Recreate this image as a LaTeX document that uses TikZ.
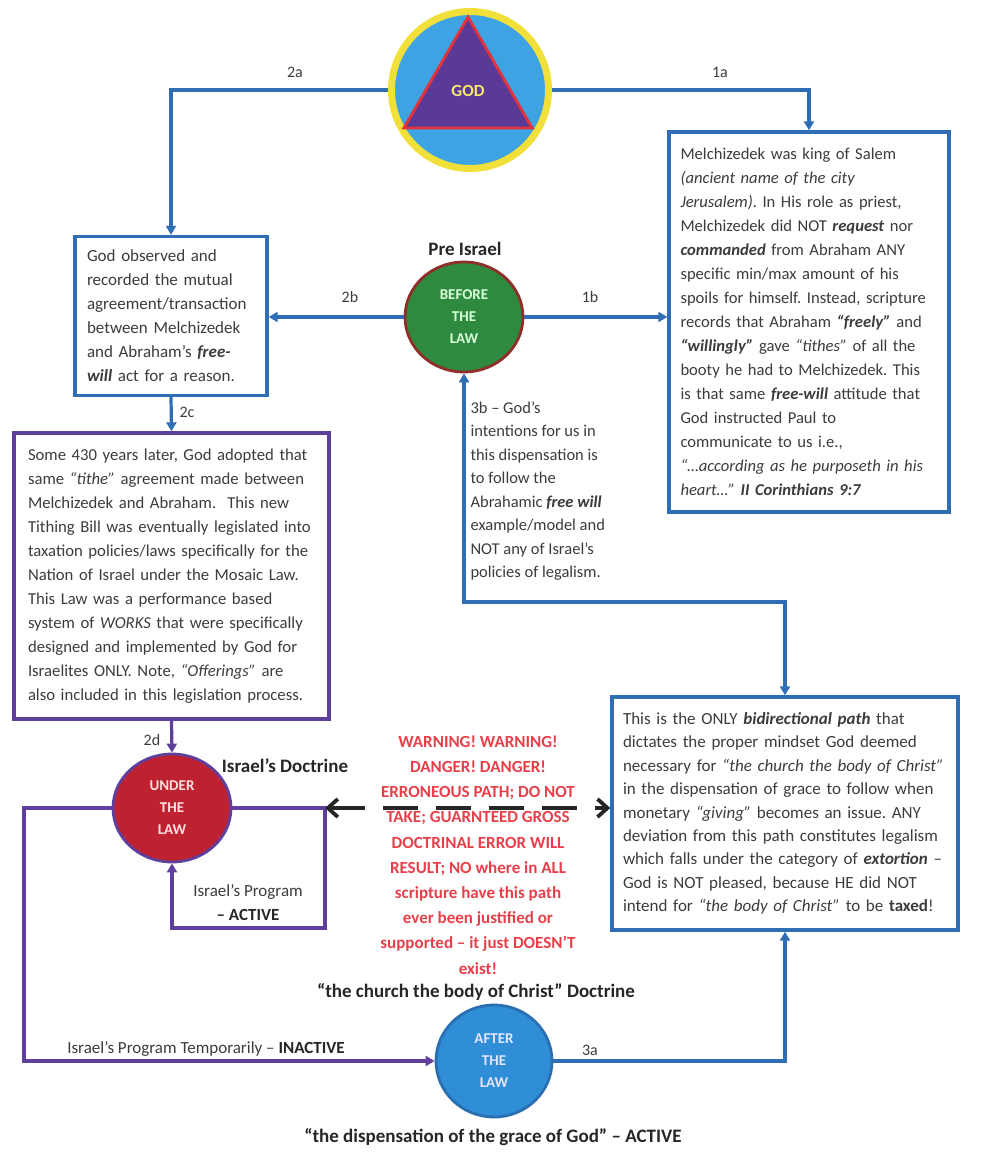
\documentclass[tikz,border=0pt]{standalone}
\usepackage{fontspec}
\setmainfont{Carlito}
\usetikzlibrary{arrows.meta}
\usetikzlibrary{calc}
\usetikzlibrary{shapes.geometric}

\definecolor{flowblue}{HTML}{2F6DB5}
\definecolor{flowpurple}{HTML}{5E3F9C}
\definecolor{godyellow}{HTML}{F2E03A}
\definecolor{godblue}{HTML}{3EA3E2}
\definecolor{godred}{HTML}{E4323A}
\definecolor{godviolet}{HTML}{5A3A96}
\definecolor{beforegreen}{HTML}{2E8A3F}
\definecolor{beforerim}{HTML}{8E2F2A}
\definecolor{underred}{HTML}{BE2230}
\definecolor{afterblue}{HTML}{2F8ED6}
\definecolor{afterrim}{HTML}{2A6FB2}
\definecolor{warnred}{HTML}{E8404A}
\definecolor{bodygray}{HTML}{3C3C3C}

\tikzset{
  flow/.style={draw=flowblue, line width=3.2pt, -{Triangle[length=9pt,width=10pt]}},
  pflow/.style={flow, draw=flowpurple},
  textbox/.style={draw=flowblue, line width=3.4pt, fill=white, align=left, inner ysep=0pt, text=bodygray, font=\fontsize{17}{24}\selectfont},
  lawbox/.style={textbox, draw=flowpurple},
  stage/.style={ellipse, line width=2.8pt, inner sep=0pt, align=center, font=\fontsize{15}{22}\selectfont\bfseries},
  steplabel/.style={text=bodygray, font=\fontsize{16}{18}\selectfont},
  heading/.style={text=black!85, font=\fontsize{19}{21}\selectfont\bfseries},
  danger/.style={draw=black!85, line width=3.8pt, dash pattern=on 35pt off 18pt, {Straight Barb[length=10pt,width=18pt]}-{Straight Barb[length=10pt,width=18pt]}},
}

\begin{document}
\frenchspacing
\hyphenpenalty=10000
\exhyphenpenalty=10000
\begin{tikzpicture}[x=1pt, y=-1pt]
      \fill[white] (0,0) rectangle (980,1169);
      \useasboundingbox (0,0) rectangle (980,1169);

      % stages
      \node[circle, draw=godyellow, line width=7pt, fill=godblue, minimum size=157pt, inner sep=0pt] (god) at (470,90) {};
      \node[regular polygon, regular polygon sides=3, draw=godred, line width=2.8pt, fill=godviolet, minimum size=148pt, inner sep=0pt, text=godyellow!75!white, font=\fontsize{17}{19}\selectfont\bfseries] (godtri) at (468,91) {GOD};
      \node[stage, fill=beforegreen, draw=beforerim, minimum width=118pt, minimum height=110pt, text=green!15!white] (before) at (464,317) {BEFORE\\THE\\LAW};
      \node[stage, fill=underred, draw=flowpurple, minimum width=118pt, minimum height=108pt, text=red!12!white] (under) at (172,808) {UNDER\\THE\\LAW};
      \node[stage, fill=afterblue, draw=afterrim, minimum width=116pt, minimum height=112pt, text=blue!10!white] (after) at (494,1061) {AFTER\\THE\\LAW};

      % boxes
      \node[textbox, text width=257pt, inner xsep=11.5pt, minimum height=380pt, font=\fontsize{16.6}{24}\selectfont] (melch) at (809,322) {%
        Melchizedek was king of Salem\\
        \textit{(ancient name of the city}\\
        \textit{Jerusalem)}. In His role as priest,\\
        Melchizedek did NOT \textbf{\textit{request}} nor\\
        \textbf{\textit{commanded}} from Abraham ANY\\
        specific min/max amount of his\\
        spoils for himself. Instead, scripture\\
        records that Abraham \textbf{\textit{“freely”}} and\\
        \textbf{\textit{“willingly”}} gave \textit{“tithes”} of all the\\
        booty he had to Melchizedek. This\\
        is that same \textbf{\textit{free-will}} attitude that\\
        God instructed Paul to\\
        communicate to us i.e.,\\
        \textit{“…according as he purposeth in his}\\
        \textit{heart…”} \textbf{\textit{II Corinthians 9:7}}};
      \node[textbox, text width=168pt, inner xsep=12pt, minimum height=159pt] (observed) at (171,316) {%
        God observed and\\
        recorded the mutual\\
        agreement/transaction\\
        between Melchizedek\\
        and Abraham’s \textbf{\textit{free-}}\\
        \textbf{\textit{will}} act for a reason.};
      \node[lawbox, text width=287pt, inner xsep=14pt, minimum height=286pt, font=\fontsize{16.7}{24}\selectfont] (tithing) at (171.5,576) {%
        Some 430 years later, God adopted that\\
        same \textit{“tithe”} agreement made between\\
        Melchizedek and Abraham.\ \ This new\\
        Tithing Bill was eventually legislated into\\
        taxation policies/laws specifically for the\\
        Nation of Israel under the Mosaic Law.\\
        This Law was a performance based\\
        system of \textit{WORKS} that were specifically\\
        designed and implemented by God for\\
        Israelites ONLY. Note, \textit{“Offerings”} are\\
        also included in this legislation process.};
      \node[textbox, text width=324pt, inner xsep=11pt, minimum height=233pt, font=\fontsize{17}{23.4}\selectfont] (grace) at (785,813.5) {%
        This is the ONLY \textbf{\textit{bidirectional path}} that\\
        dictates the proper mindset God deemed\\
        necessary for \textit{“the church the body of Christ”}\\
        in the dispensation of grace to follow when\\
        monetary \textit{“giving”} becomes an issue. ANY\\
        deviation from this path constitutes legalism\\
        which falls under the category of \textbf{\textit{extortion}} –\\
        God is NOT pleased, because HE did NOT\\
        intend for \textit{“the body of Christ”} to be \textbf{taxed}!};

      % connectors
      \coordinate (progcorner) at (325,928);
      \coordinate (gracebend) at (785,602);
      \coordinate (farleft) at (24,1061);
      \draw[flow] (god.west) -| (observed.north);
      \draw[flow] (god.east) -| (melch.north);
      \draw[flow] (before.west) -- (before.west -| observed.east);
      \draw[flow] (before.east) -- (before.east -| melch.west);
      \draw[flow] (observed.south) -- (tithing.north);
      \draw[pflow] (tithing.south) -- (under.north);
      \draw[pflow] (under.east) -| (progcorner) -| (under.south);
      \draw[flow, {Triangle[length=9pt,width=10pt]}-{Triangle[length=9pt,width=10pt]}] (before.south) |- (gracebend) -- (grace.north);
      \draw[pflow] (under.west) -| (farleft) -- (after.west);
      \draw[flow] (after.east) -| (grace.south);
      \draw[danger] (progcorner |- under.east) -- (under.east -| grace.west);

      % labels
      \node[steplabel] (l2a) at (295,72) {2a};
      \node[steplabel] (l1a) at (720,72) {1a};
      \node[steplabel] (l2b) at (350,297) {2b};
      \node[steplabel] (l1b) at (590,297) {1b};
      \node[steplabel] (l2c) at (187,412) {2c};
      \node[steplabel] (l2d) at (152,740) {2d};
      \node[steplabel] (l3a) at (590,1050) {3a};
      \node[heading] (preisrael) at (465,249) {Pre Israel};
      \node[heading] (doctrine) at (285,766) {Israel’s Doctrine};
      \node[steplabel, align=center, font=\fontsize{17}{24}\selectfont] (active) at (248,903) {Israel’s Program\\\textbf{\textcolor{black!85}{– ACTIVE}}};
      \node[steplabel, anchor=north west, align=left, font=\fontsize{16.5}{23.5}\selectfont] (intent) at (467,398) {%
        3b – God’s\\
        intentions for us in\\
        this dispensation is\\
        to follow the\\
        Abrahamic \textbf{\textit{free will}}\\
        example/model and\\
        NOT any of Israel’s\\
        policies of legalism.};
      \node[align=center, text=warnred, font=\fontsize{17}{25.2}\selectfont\bfseries] (warning) at (478,855) {%
        WARNING! WARNING!\\
        DANGER! DANGER!\\
        ERRONEOUS PATH; DO NOT\\
        TAKE; GUARNTEED GROSS\\
        DOCTRINAL ERROR WILL\\
        RESULT; NO where in ALL\\
        scripture have this path\\
        ever been justified or\\
        supported – it just DOESN’T\\
        exist!};
      \node[heading] (churchdoc) at (476,992) {“the church the body of Christ” Doctrine};
      \node[steplabel, font=\fontsize{17}{19}\selectfont] (inactive) at (206,1049) {Israel’s Program Temporarily – \textbf{\textcolor{black!85}{INACTIVE}}};
      \node[heading] (gracedoc) at (493,1137) {“the dispensation of the grace of God” – ACTIVE};
\end{tikzpicture}
\end{document}
